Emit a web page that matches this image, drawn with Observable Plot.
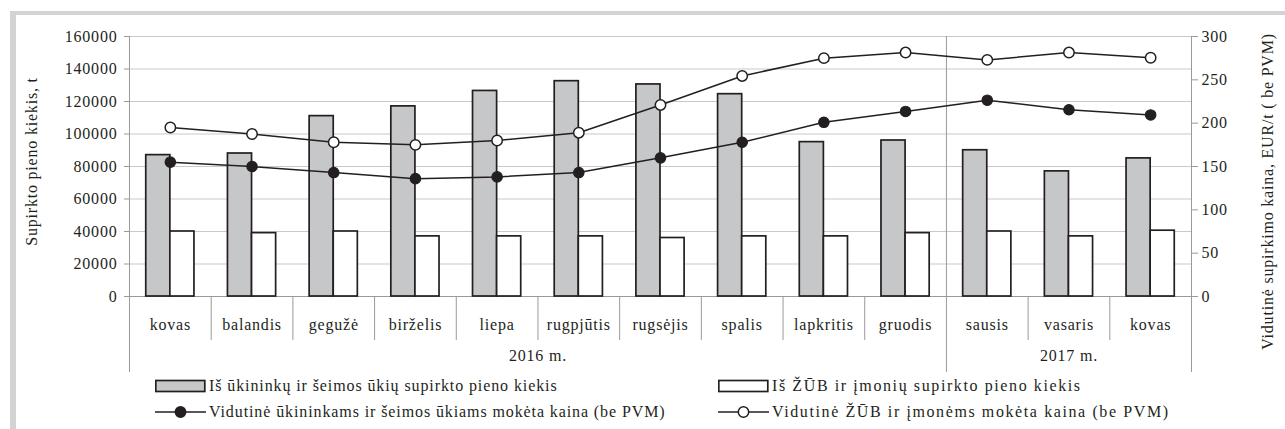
<!DOCTYPE html>
<html><head><meta charset="utf-8">
<script src="https://cdn.jsdelivr.net/npm/d3@7"></script>
<script src="https://cdn.jsdelivr.net/npm/@observablehq/plot@0.6"></script>
<style>
body{margin:0;background:#fff;font-family:"Times New Roman","Liberation Serif",Times,serif;color:#231f20;}
#wrap{position:relative;width:1285px;height:429px;overflow:hidden;background:#fff;}
.frame-top{position:absolute;left:10px;top:11px;width:1275px;height:4px;background:#d3d3d3;}
.frame-left{position:absolute;left:10px;top:11px;width:6px;height:418px;background:#d3d3d3;}
#chart{position:absolute;left:0;top:0;}
#chart svg{font-family:"Times New Roman","Liberation Serif",Times,serif !important;}
#chart svg text{letter-spacing:0.8px;font-family:"Times New Roman","Liberation Serif",Times,serif;}
.leg{position:absolute;font-size:16px;line-height:18px;white-space:nowrap;letter-spacing:0.9px;display:flex;align-items:center;font-family:"Times New Roman","Liberation Serif",Times,serif;}
.leg.wide{letter-spacing:1.6px;}
.leg svg{margin-right:3px;}
</style></head>
<body>
<div id="wrap">
  <div class="frame-top"></div>
  <div class="frame-left"></div>
  <div id="chart"></div>
  <div id="legend"></div>
</div>
<script>
// ---- data ----
const months = ["kovas","balandis","gegužė","birželis","liepa","rugpjūtis","rugsėjis","spalis","lapkritis","gruodis","sausis","vasaris","kovas"];
const yearLabels = ["2016 m.", "2017 m."];
const yearMonthCounts = [10, 3];
const farmQty = [87000, 88000, 111000, 117000, 126500, 132500, 130500, 124500, 95000, 96000, 90000, 77000, 85000];
const coopQty = [40000, 39000, 40000, 37000, 37000, 37000, 36000, 37000, 37000, 39000, 40000, 37000, 40500];
const farmPrice = [155, 150, 143, 136, 138, 143, 160, 178, 201, 213.5, 226.5, 215.5, 209.5];
const coopPrice = [195, 187.5, 178, 175, 180, 189, 221, 254.5, 275, 281.5, 273, 281.5, 275.5];
const leftTicks = [0, 20000, 40000, 60000, 80000, 100000, 120000, 140000, 160000];
const rightTicks = [0, 50, 100, 150, 200, 250, 300];
const seriesNames = [
  "Iš ūkininkų ir šeimos ūkių supirkto pieno kiekis",
  "Iš ŽŪB ir įmonių supirkto pieno kiekis",
  "Vidutinė ūkininkams ir šeimos ūkiams mokėta kaina (be PVM)",
  "Vidutinė ŽŪB ir įmonėms mokėta kaina (be PVM)"
];
const leftTitle = "Supirkto pieno kiekis, t";
const rightTitle = "Vidutinė supirkimo kaina, EUR/t ( be PVM)";

// ---- derived ----
const yMax = leftTicks[leftTicks.length - 1];
const pMax = rightTicks[rightTicks.length - 1];
const K = yMax / pMax;
const rows = months.map((m, i) => ({i, m, farm: farmQty[i], coop: coopQty[i], fp: farmPrice[i] * K, cp: coopPrice[i] * K}));
let acc = 0;
const years = yearLabels.map((label, k) => { const s = acc; acc += yearMonthCounts[k]; return {label, start: s, end: acc}; });
const boundaries = d3.range(0, months.length + 1);
const yearBounds = [0, ...years.map(y => y.end)];
const monthBounds = boundaries.filter(b => !yearBounds.includes(b));

const BW = 0.295;
const INK = "#231f20";
const AX = "#9a9a9a";
const GRID = "#c9c9c9";
const FONT = "'Times New Roman', 'Liberation Serif', Times, serif";

const chart = Plot.plot({
  width: 1285, height: 380,
  marginTop: 36, marginBottom: 84, marginLeft: 129, marginRight: 94,
  x: {domain: [0, months.length], axis: null},
  y: {domain: [0, yMax], axis: null},
  style: {fontFamily: FONT, fontSize: "16px", color: INK, background: "transparent"},
  marks: [
    Plot.ruleY(leftTicks.filter(t => t > 0), {stroke: GRID, strokeWidth: 1}),
    Plot.ruleY([0], {stroke: AX, strokeWidth: 1}),
    Plot.ruleX(yearBounds, {y1: yMax, y2: 0, insetBottom: -76, stroke: AX, strokeWidth: 1}),
    Plot.ruleX(monthBounds, {y1: 0, y2: 0, insetBottom: -44, stroke: AX, strokeWidth: 1}),
    Plot.axisY(leftTicks, {anchor: "left", tickSize: 5, tickPadding: 7, stroke: AX, fill: INK, tickFormat: d => String(d), label: null, fontSize: 16}),
    Plot.axisY(rightTicks.map(v => v * K), {anchor: "right", tickSize: 6, tickPadding: 4, stroke: AX, fill: INK, tickFormat: d => String(Math.round(d / K)), label: null, fontSize: 16}),
    Plot.rect(rows, {x1: d => d.i + 0.5 - BW, x2: d => d.i + 0.5, y1: 0, y2: "farm", fill: "#c6c7c9", stroke: INK, strokeWidth: 1.7}),
    Plot.rect(rows, {x1: d => d.i + 0.5, x2: d => d.i + 0.5 + BW, y1: 0, y2: "coop", fill: "#ffffff", stroke: INK, strokeWidth: 1.7}),
    Plot.line(rows, {x: d => d.i + 0.5, y: "fp", stroke: INK, strokeWidth: 1.5}),
    Plot.line(rows, {x: d => d.i + 0.5, y: "cp", stroke: INK, strokeWidth: 1.5}),
    Plot.dot(rows, {x: d => d.i + 0.5, y: "fp", r: 5.2, fill: INK, stroke: INK, strokeWidth: 1.2}),
    Plot.dot(rows, {x: d => d.i + 0.5, y: "cp", r: 5.2, fill: "#fff", stroke: INK, strokeWidth: 1.5}),
    Plot.text(rows, {x: d => d.i + 0.5, y: 0, text: "m", dy: 28, fill: INK, fontSize: 16}),
    Plot.text(years, {x: d => (d.start + d.end) / 2, y: 0, text: "label", dy: 59, fill: INK, fontSize: 16}),
    Plot.text([leftTitle], {frameAnchor: "left", textAnchor: "middle", dx: -98, dy: -5, rotate: -90, fill: INK, fontSize: 16}),
    Plot.text([rightTitle], {frameAnchor: "right", textAnchor: "middle", dx: 76, dy: 25, rotate: -90, fill: INK, fontSize: 16})
  ]
});
document.getElementById("chart").appendChild(chart);

// ---- legend ----
const legend = document.getElementById("legend");
const legendItems = [
  {name: seriesNames[0], type: "bar", fill: "#c6c7c9", left: 155, top: 377, wide: false},
  {name: seriesNames[1], type: "bar", fill: "#ffffff", left: 718, top: 377, wide: true},
  {name: seriesNames[2], type: "line", fill: INK, left: 155, top: 403, wide: false},
  {name: seriesNames[3], type: "line", fill: "#ffffff", left: 718, top: 403, wide: true}
];
for (const it of legendItems) {
  const div = document.createElement("div");
  div.className = "leg" + (it.wide ? " wide" : "");
  div.style.left = it.left + "px";
  div.style.top = it.top + "px";
  const sw = it.type === "bar"
    ? `<svg width="51" height="14"><rect x="0.8" y="1.5" width="49" height="11" fill="${it.fill}" stroke="${INK}" stroke-width="1.7"/></svg>`
    : `<svg width="51" height="14"><line x1="0" x2="51" y1="7" y2="7" stroke="${INK}" stroke-width="1.5"/><circle cx="25.5" cy="7" r="5.2" fill="${it.fill}" stroke="${INK}" stroke-width="1.5"/></svg>`;
  div.innerHTML = sw + `<span>${it.name}</span>`;
  legend.appendChild(div);
}
</script>
</body></html>
